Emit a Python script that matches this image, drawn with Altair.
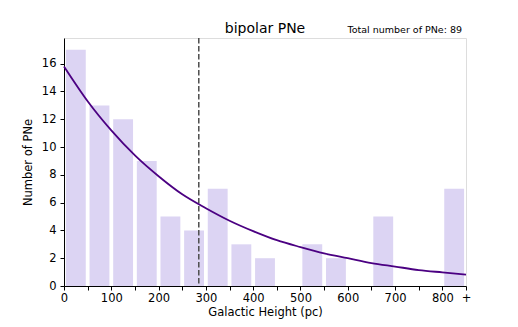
import altair as alt
import pandas as pd

# Histogram bins (pc) and counts
bin_start = [0, 50, 100, 150, 200, 250, 300, 350, 400, 450, 500, 550, 600, 650, 700, 750, 800]
counts = [17, 13, 12, 9, 5, 4, 7, 3, 2, 0, 3, 2, 0, 5, 0, 0, 7]
bin_width = 50

# Fitted exponential curve
curve_x = [0, 50, 100, 150, 200, 250, 300, 350, 400, 450, 500, 550, 600, 650, 700, 750, 800, 850]
curve_y = [15.8, 13.3, 11.2, 9.4, 7.9, 6.6, 5.6, 4.7, 3.95, 3.3, 2.8, 2.35, 2.0, 1.65, 1.4, 1.15, 0.98, 0.82]

scale_height = 285
x_ticks = [0, 50, 100, 150, 200, 250, 300, 350, 400, 450, 500, 550, 600, 650, 700, 750, 800, 850]
y_ticks = [0, 2, 4, 6, 8, 10, 12, 14, 16]

inset = 4
bars = pd.DataFrame({
    "x0": [s + inset for s in bin_start],
    "x1": [s + bin_width - inset for s in bin_start],
    "n": counts,
    "zero": [0] * len(counts),
})
bars = bars[bars["n"] > 0]
curve = pd.DataFrame({"x": curve_x, "y": curve_y})

font = "DejaVu Sans"
xscale = alt.Scale(domain=[0, 850], nice=False, zero=False)
yscale = alt.Scale(domain=[0, 17.85], nice=False)

xaxis = alt.Axis(
    values=x_ticks,
    labelExpr="datum.value >= 849 ? '+' : (datum.value % 100 == 0 ? '' + datum.value : '')",
    title="Galactic Height (pc)",
    grid=False,
    domainColor="black", tickColor="black", labelColor="black", titleColor="black",
    labelFont=font, titleFont=font, labelFontSize=11.5, titleFontSize=11.5,
    titleFontWeight="normal", tickSize=4, labelPadding=2, titlePadding=3,
    labelFlush=False, labelOverlap=False, labelBound=False,
)
yaxis = alt.Axis(
    values=y_ticks,
    title="Number of PNe",
    grid=False,
    domainColor="black", tickColor="black", labelColor="black", titleColor="black",
    labelFont=font, titleFont=font, labelFontSize=11.5, titleFontSize=11.5,
    titleFontWeight="normal", tickSize=4, labelPadding=4, titlePadding=8,
    labelOverlap=False, labelFlush=False,
)

bar_layer = alt.Chart(bars).mark_bar(color="#dcd4f3").encode(
    x=alt.X("x0:Q", scale=xscale, axis=xaxis),
    x2="x1:Q",
    y=alt.Y("n:Q", scale=yscale, axis=yaxis),
    y2="zero:Q",
)

rule = alt.Chart(pd.DataFrame({"h": [scale_height]})).mark_rule(
    color="#4d4d4d", strokeDash=[5.5, 2.5], strokeWidth=1.5
).encode(x=alt.X("h:Q", scale=xscale, axis=xaxis))

line = alt.Chart(curve).mark_line(color="#4b0082", strokeWidth=1.8, interpolate="monotone").encode(
    x=alt.X("x:Q", scale=xscale, axis=xaxis),
    y=alt.Y("y:Q", scale=yscale, axis=yaxis),
)

title = alt.Chart(pd.DataFrame({"t": ["bipolar PNe"]})).mark_text(
    font=font, fontSize=14, color="black", baseline="alphabetic", align="center"
).encode(text="t:N", x=alt.value(201), y=alt.value(-5))

total = alt.Chart(pd.DataFrame({"t": ["Total number of PNe: 89"]})).mark_text(
    font=font, fontSize=9.5, color="black", baseline="alphabetic", align="right"
).encode(text="t:N", x=alt.value(398), y=alt.value(-5))

chart = alt.layer(bar_layer, rule, line, title, total).properties(
    width=402, height=248,
    autosize=alt.AutoSizeParams(type="none"),
    padding={"left": 56, "top": 30, "right": 44, "bottom": 33},
).configure_view(stroke="black", strokeWidth=1).configure(background="white")

chart.save("out.html", embed_options={"renderer": "svg", "actions": False})
